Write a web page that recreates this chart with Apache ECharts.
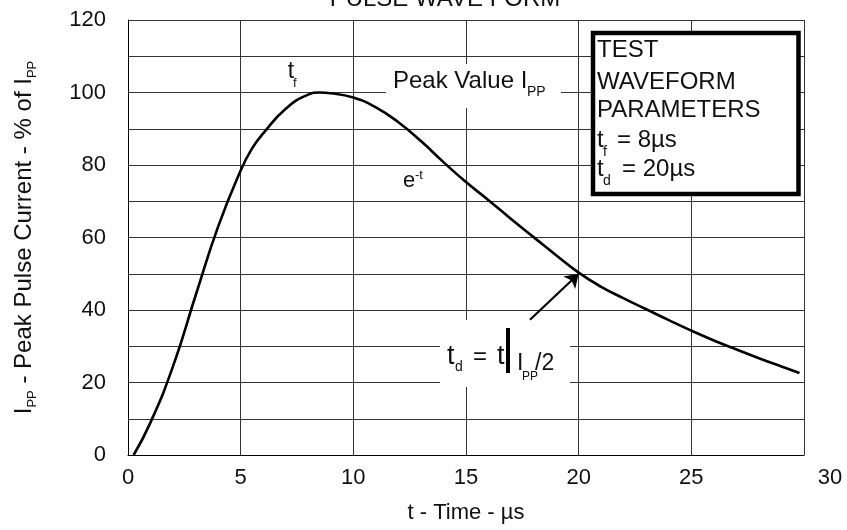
<!DOCTYPE html>
<html><head><meta charset="utf-8">
<script src="https://cdn.jsdelivr.net/npm/echarts@6/dist/echarts.min.js"></script>
<style>html,body{margin:0;padding:0;background:#fff}#c{width:847px;height:530px}</style>
</head><body><div id="c"></div>
<script>
// Pulse waveform
const timeUs     = [0.25, 1, 2, 3, 4, 5, 5.5, 6, 7, 8, 8.5, 9, 10, 11, 12, 13, 14, 15, 16, 17, 18, 19, 20, 21, 22, 23, 24, 25, 26, 27, 28, 29, 29.8];
const currentPct = [0, 9, 24.5, 44, 63, 78.5, 84.5, 88.7, 95.5, 99.4, 100, 99.8, 98.6, 95.9, 91.8, 86.6, 80.8, 75.3, 70.3, 65.1, 60.1, 55.1, 50.3, 46.4, 43.2, 40.2, 37.2, 34.3, 31.6, 29.1, 26.7, 24.4, 22.6];
const xTickLabels = [0, 5, 10, 15, 20, 25, 30];
const yTickLabels = [0, 20, 40, 60, 80, 100, 120];
const arrowFrom = [17.84, 37.3];
const arrowTo = [20, 50];

const FONT = '"Liberation Sans", Arial, sans-serif';
const INK = '#111';

function txt(x, y, s, size, align) {
  return { type: 'text', x: x, y: y, z: 10,
    style: { text: s, fontSize: size, fontFamily: FONT, fill: INK,
             align: align || 'left', verticalAlign: 'middle' } };
}

const chart = echarts.init(document.getElementById('c'), null, { renderer: 'canvas' });
chart.setOption({
  animation: false,
  backgroundColor: '#fff',
  grid: { left: 128, right: 43, top: 20, bottom: 75, containLabel: false, outerBoundsMode: 'none' },
  xAxis: {
    type: 'value', min: 0, max: 30, interval: 5,
    axisLine: { show: true, lineStyle: { color: '#000', width: 1 } },
    axisTick: { show: false },
    splitLine: { show: true, lineStyle: { color: '#333', width: 1 } },
    axisLabel: {
      fontSize: 22, fontFamily: FONT, color: INK, margin: 12,
      formatter: function (v) {
        if (xTickLabels.indexOf(v) < 0) return '';
        return v === 30 ? '{r|30}' : String(v);
      },
      rich: { r: { fontSize: 22, fontFamily: FONT, color: INK, padding: [0, 0, 0, 52] } }
    },
    name: 't - Time - µs', nameLocation: 'middle', nameGap: 47,
    nameTextStyle: { fontSize: 22, fontFamily: FONT, color: INK }
  },
  yAxis: {
    type: 'value', min: 0, max: 120, interval: 10,
    axisLine: { show: true, lineStyle: { color: '#000', width: 1 } },
    axisTick: { show: false },
    splitLine: { show: true, lineStyle: { color: '#333', width: 1 } },
    axisLabel: {
      fontSize: 22, fontFamily: FONT, color: INK, margin: 22,
      formatter: function (v) { return yTickLabels.indexOf(v) >= 0 ? String(v) : ''; }
    },
    name: '{m|I}{s|PP}{m| - Peak Pulse Current - % of I}{s|PP}',
    nameLocation: 'middle', nameGap: 89,
    nameTextStyle: {
      rich: {
        m: { fontSize: 24, fontFamily: FONT, color: INK, lineHeight: 30 },
        s: { fontSize: 13, fontFamily: FONT, color: INK, lineHeight: 10, verticalAlign: 'bottom' }
      }
    }
  },
  series: [{
    type: 'line', z: 2,
    data: timeUs.map(function (t, i) { return [t, currentPct[i]]; }),
    showSymbol: false, smooth: 0.5,
    lineStyle: { color: '#000', width: 2.6 },
    markLine: {
      silent: true, symbol: ['none', 'arrow'], symbolSize: 13,
      lineStyle: { color: '#000', width: 2.2, type: 'solid' },
      label: { show: false },
      data: [[{ coord: arrowFrom }, { coord: arrowTo }]]
    }
  }],
  graphic: [
    // title (clipped at top)
    txt(445, -1, 'PULSE WAVE FORM', 24, 'center'),
    // white backgrounds behind annotations
    { type: 'rect', z: 1, shape: { x: 386, y: 64, width: 175, height: 44 }, style: { fill: '#fff' } },
    { type: 'rect', z: 1, shape: { x: 440, y: 320, width: 130, height: 67 }, style: { fill: '#fff' } },
    // t_f
    txt(291, 72, 't', 23, 'center'),
    txt(293, 83, 'f', 13),
    // Peak Value I_PP
    txt(393, 81.5, 'Peak Value I', 24),
    txt(527, 92.5, 'PP', 14),
    // e^-t
    txt(403, 181, 'e', 22),
    txt(415, 175, '-t', 13),
    // t_d = t | I_PP/2
    txt(447, 357, 't', 27),
    txt(455, 367, 'd', 14),
    txt(480, 357, '=', 24, 'center'),
    txt(497, 357, 't', 27),
    { type: 'rect', z: 10, shape: { x: 506, y: 328, width: 4, height: 45 }, style: { fill: '#000' } },
    txt(517, 363.5, 'I', 23),
    txt(522, 376.5, 'PP', 12),
    txt(535, 363.5, '/2', 23),
    // parameter box
    { type: 'rect', z: 5, shape: { x: 593, y: 33, width: 205.5, height: 161 }, style: { fill: '#fff', stroke: '#000', lineWidth: 4.5 } },
    txt(597, 50, 'TEST', 24),
    txt(597, 82.5, 'WAVEFORM', 24),
    txt(597, 110, 'PARAMETERS', 24),
    txt(597, 140, 't', 24),
    txt(603, 152, 'f', 14),
    txt(617, 140, '= 8µs', 24),
    txt(597, 169, 't', 24),
    txt(603, 181, 'd', 14),
    txt(622, 169, '= 20µs', 24)
  ]
});
</script>
</body></html>
